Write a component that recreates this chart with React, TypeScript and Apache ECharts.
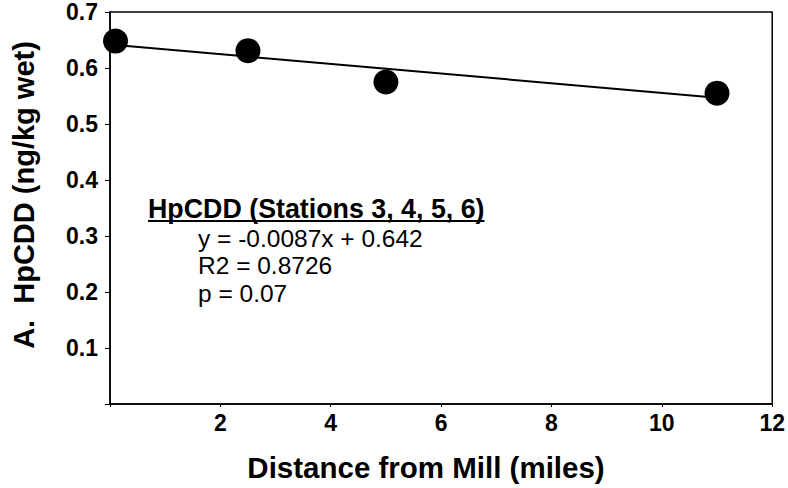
import React, { useEffect, useRef } from "react";
import * as echarts from "echarts";

const distance = [0.1, 2.5, 5, 11];
const hpcdd = [0.648, 0.631, 0.575, 0.555];
const fitX = [0.1, 11];
const fitY = [0.641, 0.547];
const annotationTitle = "HpCDD (Stations 3, 4, 5, 6)";
const annotationLines = ["y = -0.0087x + 0.642", "R2 = 0.8726", "p = 0.07"];
const xTitle = "Distance from Mill (miles)";
const yTitle = "A.  HpCDD (ng/kg wet)";

const FONT = "'Liberation Sans', Arial, Helvetica, sans-serif";

function measure(text: string, font: string): number {
  const c = document.createElement("canvas");
  const ctx = c.getContext("2d");
  if (!ctx) return text.length * 12;
  ctx.font = font;
  return ctx.measureText(text).width;
}

export default function App() {
  const ref = useRef<HTMLDivElement>(null);

  useEffect(() => {
    if (!ref.current) return;
    const chart = echarts.init(ref.current, undefined, { renderer: "svg" });
    const titleSize = 26.8;
    const underlineW = measure(annotationTitle, `bold ${titleSize}px ${FONT}`);
    const annX = 148;
    const lineX = 198;

    chart.setOption({
      animation: false,
      backgroundColor: "#ffffff",
      grid: {
        left: 110,
        top: 12,
        right: 14,
        bottom: 84,
        show: true,
        borderColor: "#000",
        borderWidth: 1.5,
        backgroundColor: "transparent",
      },
      xAxis: {
        type: "value",
        min: 0,
        max: 12,
        interval: 2,
        axisLine: { show: true, onZero: false, lineStyle: { color: "#000", width: 1.5 } },
        axisTick: { show: true, inside: false, length: 3, lineStyle: { color: "#000", width: 1 } },
        splitLine: { show: false },
        axisLabel: {
          color: "#000",
          fontFamily: FONT,
          fontSize: 23,
          fontWeight: "bold",
          margin: 7,
          formatter: (v: number) => (v === 0 ? "" : String(v)),
        },
      },
      yAxis: {
        type: "value",
        min: 0,
        max: 0.7,
        interval: 0.1,
        axisLine: { show: true, onZero: false, lineStyle: { color: "#000", width: 1.5 } },
        axisTick: { show: true, inside: false, length: 5, lineStyle: { color: "#000", width: 1 } },
        splitLine: { show: false },
        axisLabel: {
          color: "#000",
          fontFamily: FONT,
          fontSize: 23,
          fontWeight: "bold",
          margin: 12,
          formatter: (v: number) => (Math.abs(v) < 1e-9 ? "" : v.toFixed(1)),
        },
      },
      series: [
        {
          type: "line",
          data: fitX.map((x, i) => [x, fitY[i]]),
          showSymbol: false,
          symbol: "none",
          lineStyle: { color: "#000", width: 2 },
          z: 2,
        },
        {
          type: "scatter",
          data: distance.map((x, i) => [x, hpcdd[i]]),
          symbol: "circle",
          symbolSize: 25,
          itemStyle: { color: "#000", opacity: 1 },
          z: 3,
        },
      ],
      graphic: [
        {
          type: "text",
          x: annX,
          y: 209,
          style: {
            text: annotationTitle,
            fontFamily: FONT,
            fontSize: titleSize,
            fontWeight: "bold",
            fill: "#000",
            align: "left",
            verticalAlign: "middle",
          },
        },
        {
          type: "line",
          shape: { x1: annX, y1: 221, x2: annX + underlineW, y2: 221 },
          style: { stroke: "#000", lineWidth: 2 },
        },
        ...annotationLines.map((t, i) => ({
          type: "text",
          x: lineX,
          y: 238 + i * 27.5,
          style: {
            text: t,
            fontFamily: FONT,
            fontSize: 24.5,
            fill: "#000",
            align: "left",
            verticalAlign: "middle",
          },
        })),
        {
          type: "text",
          x: 426,
          y: 467,
          style: {
            text: xTitle,
            fontFamily: FONT,
            fontSize: 29.5,
            fontWeight: "bold",
            fill: "#000",
            align: "center",
            verticalAlign: "middle",
          },
        },
        {
          type: "text",
          x: 24,
          y: 195,
          rotation: Math.PI / 2,
          style: {
            text: yTitle,
            fontFamily: FONT,
            fontSize: 29,
            fontWeight: "bold",
            fill: "#000",
            align: "center",
            verticalAlign: "middle",
          },
        },
      ],
    });

    return () => chart.dispose();
  }, []);

  return <div ref={ref} style={{ width: 788, height: 488, position: "absolute", left: 0, top: 0 }} />;
}
